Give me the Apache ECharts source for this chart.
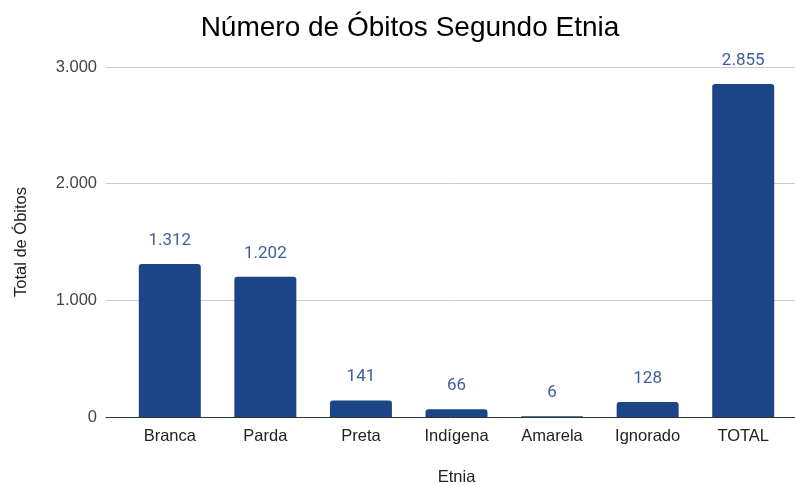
<!DOCTYPE html>
<html><head><meta charset="utf-8">
<script src="https://cdn.jsdelivr.net/npm/echarts@6/dist/echarts.min.js"></script>
<style>html,body{margin:0;padding:0;background:#fff}#c{width:795px;height:485px}</style>
</head><body><div id="c"></div>
<script>
const categories = ['Branca','Parda','Preta','Indígena','Amarela','Ignorado','TOTAL'];
const values = [1312, 1202, 141, 66, 6, 128, 2855];
const yTicks = [0, 1000, 2000, 3000];

function fmt(v){ return String(v).replace(/\B(?=(\d{3})+(?!\d))/g, '.'); }

const chart = echarts.init(document.getElementById('c'), null, {renderer:'canvas'});
const F = '"Liberation Sans", Arial, sans-serif';
chart.setOption({
  animation:false,
  title:{text:'Número de Óbitos Segundo Etnia', left:405, top:9, textAlign:'center',
    textStyle:{fontFamily:F, fontSize:28, fontWeight:'normal', color:'#000'}},
  grid:[
    {left:122, right:4, top:67, bottom:68, containLabel:false, outerBoundsMode:'none'},
    {left:106, right:0, top:67, bottom:68, containLabel:false, outerBoundsMode:'none'}
  ],
  xAxis:[
    {type:'category', gridIndex:0, data:categories,
      axisLine:{show:false}, axisTick:{show:false},
      axisLabel:{fontFamily:F, fontSize:16.5, color:'#222', margin:11},
      name:'Etnia', nameLocation:'middle', nameGap:52,
      nameTextStyle:{fontFamily:F, fontSize:16.5, color:'#222'}},
    {type:'category', gridIndex:1, data:[''],
      axisLine:{show:true, lineStyle:{color:'#333', width:1}}, axisTick:{show:false}, axisLabel:{show:false}, z:5}
  ],
  yAxis:[
    {type:'value', gridIndex:0, min:0, max:3000, interval:1000,
      axisLine:{show:false}, axisTick:{show:false}, splitLine:{show:false},
      axisLabel:{show:false}},
    {type:'value', gridIndex:1, min:yTicks[0], max:yTicks[yTicks.length-1], interval:1000,
      axisLine:{show:false}, axisTick:{show:false},
      splitLine:{show:true, lineStyle:{color:'#ccc', width:1}},
      axisLabel:{fontFamily:F, fontSize:16.5, color:'#444', margin:9, formatter:fmt},
      name:'Total de Óbitos', nameLocation:'middle', nameGap:76, nameRotate:90,
      nameTextStyle:{fontFamily:F, fontSize:16.5, color:'#222'}}
  ],
  series:[{
    type:'bar', xAxisIndex:0, yAxisIndex:0, data:values, barWidth:62, z:3,
    itemStyle:{color:'#1c4587', borderRadius:[3,3,0,0]},
    label:{show:true, position:'top', distance:15, formatter:p=>fmt(p.value),
      fontFamily:'Roboto, sans-serif', fontSize:17, color:'#3f5e9c'}
  }]
});
</script></body></html>
